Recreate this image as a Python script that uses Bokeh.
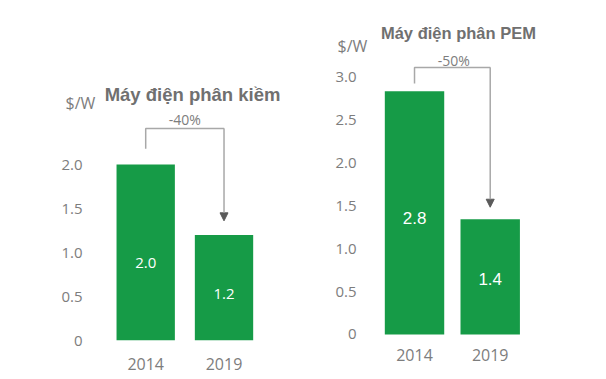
from bokeh.plotting import figure
from bokeh.layouts import row
from bokeh.models import Range1d, FixedTicker, Label, Arrow, NormalHead, ColumnDataSource
from bokeh.embed import file_html
from bokeh.resources import INLINE
from bokeh.core.properties import value

# ---- data ----
years = ["2014", "2019"]
unit = "$/W"

alk_title = "Máy điện phân kiềm"
alk_values = [2.0, 1.2]
alk_labels = ["2.0", "1.2"]
alk_change = "-40%"
alk_ticks = [0, 0.5, 1.0, 1.5, 2.0]
alk_tick_labels = ["0", "0.5", "1.0", "1.5", "2.0"]

pem_title = "Máy điện phân PEM"
pem_values = [2.83, 1.34]
pem_labels = ["2.8", "1.4"]
pem_change = "-50%"
pem_ticks = [0, 0.5, 1.0, 1.5, 2.0, 2.5, 3.0]
pem_tick_labels = ["0", "0.5", "1.0", "1.5", "2.0", "2.5", "3.0"]

GREEN = "#169b47"
GRAY = "#7d7d7d"
TITLE_GRAY = "#707070"
LINE_GRAY = "#a8a8a8"
FONT = "Open Sans"
TFONT = "Liberation Sans"
H = 375


def make_chart(title, values, labels, change, ticks, tick_labels, c):
    p = figure(width=c["width"], height=H, output_backend="svg", toolbar_location=None,
               x_range=Range1d(c["x0"], c["x1"]), y_range=Range1d(c["y0"], c["y1"]),
               min_border_left=c["mbl"], min_border_right=c["mbr"],
               min_border_top=0, min_border_bottom=35)
    p.outline_line_color = None
    p.grid.visible = False
    p.background_fill_color = "white"
    p.border_fill_color = "white"

    xs = list(range(len(years)))
    src = ColumnDataSource(dict(x=xs, top=values, lab=labels,
                                ly=[v * c["lab_frac"] for v in values]))
    p.vbar(x="x", top="top", bottom=0, width=c["bw"], source=src,
           fill_color=GREEN, line_color=None)
    p.text(x="x", y="ly", text="lab", source=src, text_align="center",
           text_baseline="alphabetic", text_color="white",
           text_font=value(c["lab_font"]), text_font_size=c["lab_size"])

    # y axis (labels drawn just inside the frame, which also holds the unit label)
    ya = p.yaxis[0]
    ya.ticker = FixedTicker(ticks=ticks)
    ya.major_label_overrides = {t: s for t, s in zip(ticks, tick_labels)}
    ya.axis_line_color = None
    ya.major_tick_line_color = None
    ya.minor_tick_line_color = None
    ya.major_label_text_font = FONT
    ya.major_label_text_font_size = "15px"
    ya.major_label_text_color = GRAY
    ya.major_label_standoff = c["ystand"]

    # x axis
    xa = p.xaxis[0]
    xa.ticker = FixedTicker(ticks=xs)
    xa.major_label_overrides = {i: y for i, y in zip(xs, years)}
    xa.axis_line_color = None
    xa.major_tick_line_color = None
    xa.minor_tick_line_color = None
    xa.major_label_text_font = FONT
    xa.major_label_text_font_size = "16px"
    xa.major_label_text_color = GRAY
    xa.major_label_standoff = c["xstand"]

    # bracket
    h = values[0] + c["bh"]
    p.line(x=[xs[0], xs[0], xs[1], xs[1]],
           y=[values[0] + c["b0"], h, h, h - 0.001], line_color=LINE_GRAY, line_width=1.5)
    p.add_layout(Arrow(end=NormalHead(size=8, fill_color="#5a5a5a", line_color="#5a5a5a"),
                       x_start=xs[1], y_start=h, x_end=xs[1], y_end=values[1] + c["b1"],
                       line_color=LINE_GRAY, line_width=1.5))
    p.add_layout(Label(x=c["cx"], y=h + c["cy"], text=change, text_align="center",
                       text_baseline="alphabetic", text_font=FONT, text_font_size="14px",
                       text_color=GRAY))
    p.add_layout(Label(x=c["tx"], y=c["ty"], text=title, text_align="center",
                       text_baseline="alphabetic", text_font=TFONT,
                       text_font_size=c["tsize"], text_font_style="bold",
                       text_color=TITLE_GRAY))
    p.add_layout(Label(x=c["ux"], y=c["uy"], text=unit, text_align="left",
                       text_baseline="alphabetic", text_font=FONT, text_font_size="16px",
                       text_color=GRAY))
    return p


alk_cfg = dict(width=300, mbl=60, mbr=10, x0=-1.088, x1=1.849, y0=0.0, y1=3.864,
               bw=0.745, lab_frac=0.44, lab_font=FONT, lab_size="15px", ystand=-28, xstand=11,
               bh=0.41, b0=0.18, b1=0.16, cx=0.50, cy=0.105,
               tx=0.598, ty=2.80, tsize="18.5px", ux=-1.024, uy=2.70)
pem_cfg = dict(width=302, mbl=30, mbr=12, x0=-1.110, x1=2.325, y0=-0.0698, y1=3.884,
               bw=0.785, lab_frac=0.48, lab_font=TFONT, lab_size="17px", ystand=-32, xstand=2,
               bh=0.275, b0=0.09, b1=0.14, cx=0.52, cy=0.085,
               tx=0.58, ty=3.503, tsize="16.5px", ux=-1.017, uy=3.35)

p1 = make_chart(alk_title, alk_values, alk_labels, alk_change, alk_ticks, alk_tick_labels, alk_cfg)
p2 = make_chart(pem_title, pem_values, pem_labels, pem_change, pem_ticks, pem_tick_labels, pem_cfg)

layout = row(p1, p2)
open("out.html", "w").write(file_html(layout, INLINE))
